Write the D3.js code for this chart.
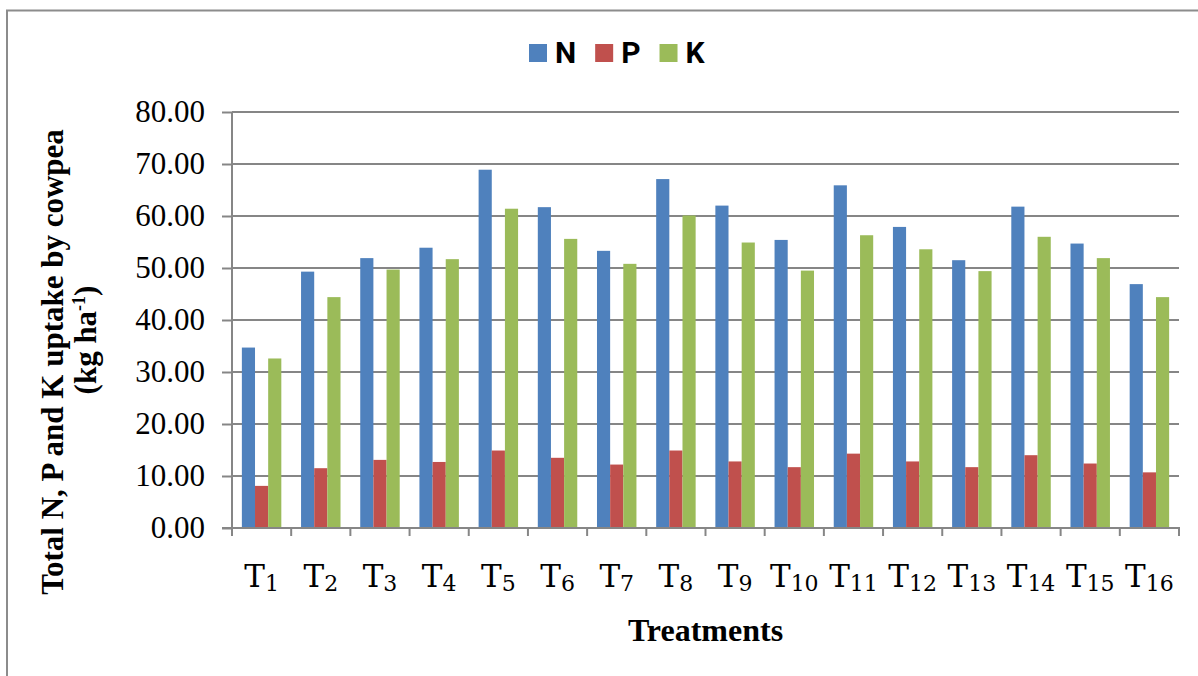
<!DOCTYPE html>
<html>
<head>
<meta charset="utf-8">
<script src="https://cdn.jsdelivr.net/npm/d3@7"></script>
<style>
body {margin:0; background:#fff;}
.grid {stroke:#868686; stroke-width:2;}
.axis path, .axis line {stroke:#868686; stroke-width:2;}
.axis text {font-family:"Liberation Serif","Times New Roman",serif; font-size:31px; fill:#000;}
</style>
</head>
<body>
<script>
// data
var treatments=['1','2','3','4','5','6','7','8','9','10','11','12','13','14','15','16'];
var series=['N','P','K'];
var nVals=[34.7,49.3,51.9,53.9,68.9,61.7,53.3,67.1,62.0,55.4,65.9,57.9,51.5,61.8,54.7,46.9];
var pVals=[8.1,11.5,13.1,12.7,14.9,13.5,12.2,14.9,12.8,11.7,14.3,12.8,11.7,14.0,12.4,10.7];
var kVals=[32.6,44.4,49.7,51.7,61.4,55.6,50.8,60.1,54.9,49.5,56.3,53.6,49.4,56.0,51.9,44.4];
var yTicks=[0,10,20,30,40,50,60,70,80];
var colors=['#4F81BD','#C0504D','#9BBB59'];
// layout
var wid=1198, hgh=676;
var pl=232, pr=1179, pt=112, pb=528; // plot box
var vals=[nVals,pVals,kVals];

var svg=d3.select('body').append('svg').attr('width',wid).attr('height',hgh);

// outer frame (only top and left show in the picture)
svg.append('rect').attr('x',7).attr('y',10.5).attr('width',wid+20).attr('height',hgh+20)
  .attr('fill','none').attr('stroke','#8c8c8c').attr('stroke-width',2);

var x=d3.scaleBand().domain(treatments).range([pl,pr]).paddingInner(0).paddingOuter(0);
var xs=d3.scaleBand().domain(series).range([0,x.bandwidth()]).paddingInner(0).paddingOuter(0.75);
var y=d3.scaleLinear().domain([0,80]).range([pb,pt]);

// gridlines
svg.selectAll('line.grid').data(yTicks.slice(1)).enter()
  .append('line').attr('class','grid')
  .attr('x1',pl).attr('x2',pr).attr('y1',function (d) {return y(d);}).attr('y2',function (d) {return y(d);});

// bars
series.forEach(function (s,si) {
  svg.selectAll('rect.bar'+s).data(vals[si]).enter()
    .append('rect').attr('class','bar'+s)
    .attr('x',function (d,i) {return x(treatments[i])+xs(s);})
    .attr('width',xs.bandwidth())
    .attr('y',function (d) {return y(d);})
    .attr('height',function (d) {return y(0)-y(d);})
    .attr('fill',colors[si]);
});

// y axis
svg.append('g').attr('class','axis').attr('transform','translate('+pl+',0)')
  .call(d3.axisLeft(y).tickValues(yTicks).tickSize(10).tickPadding(17).tickFormat(d3.format('.2f')))
  .call(function (g) {g.select('.domain').attr('d','M0,'+pt+'V'+pb);})
  .selectAll('text').attr('dy','0.3em');

// x axis line + boundary ticks
svg.append('line').attr('class','grid').attr('x1',pl-10).attr('x2',pr+1).attr('y1',pb).attr('y2',pb);
var bounds=treatments.map(function (t) {return x(t);}).concat([x.range()[1]]);
svg.selectAll('line.xtick').data(bounds).enter()
  .append('line').attr('class','grid')
  .attr('x1',function (d) {return d;}).attr('x2',function (d) {return d;})
  .attr('y1',pb).attr('y2',pb+8);

// category labels T with subscript
var lab=svg.selectAll('text.xlab').data(treatments).enter()
  .append('text').attr('class','xlab')
  .attr('x',function (d) {return x(d)+x.bandwidth()/2;}).attr('y',587)
  .attr('text-anchor','middle')
  .style('font-family','"DejaVu Serif",serif').style('fill','#000');
lab.append('tspan').style('font-size','31px').text('T');
lab.append('tspan').style('font-size','22px').attr('dy',4).text(function (d) {return d;});

// axis titles
svg.append('text').attr('x',(pl+pr)/2).attr('y',641).attr('text-anchor','middle')
  .style('font-family','"Liberation Serif",serif').style('font-weight','bold').style('font-size','32px')
  .text('Treatments');
svg.append('text').attr('transform','translate(63,362) rotate(-90)').attr('text-anchor','middle')
  .style('font-family','"Liberation Serif",serif').style('font-weight','bold').style('font-size','31px')
  .text('Total N, P and K uptake by cowpea');
var t2=svg.append('text').attr('transform','translate(96,340) rotate(-90)').attr('text-anchor','middle')
  .style('font-family','"Liberation Serif",serif').style('font-weight','bold').style('font-size','31px');
t2.append('tspan').text('(kg ha');
t2.append('tspan').attr('dy',-11).style('font-size','18px').text('-1');
t2.append('tspan').attr('dy',11).text(')');

// legend
var lx=529;
series.forEach(function (s,si) {
  svg.append('rect').attr('x',lx).attr('y',44).attr('width',18).attr('height',18).attr('fill',colors[si]);
  var t=svg.append('text').attr('x',lx+26).attr('y',63)
    .style('font-family','Roboto,sans-serif').style('font-weight','bold').style('font-size','30px')
    .text(s);
  lx+=26+t.node().getComputedTextLength()+19;
});
</script>
</body>
</html>
